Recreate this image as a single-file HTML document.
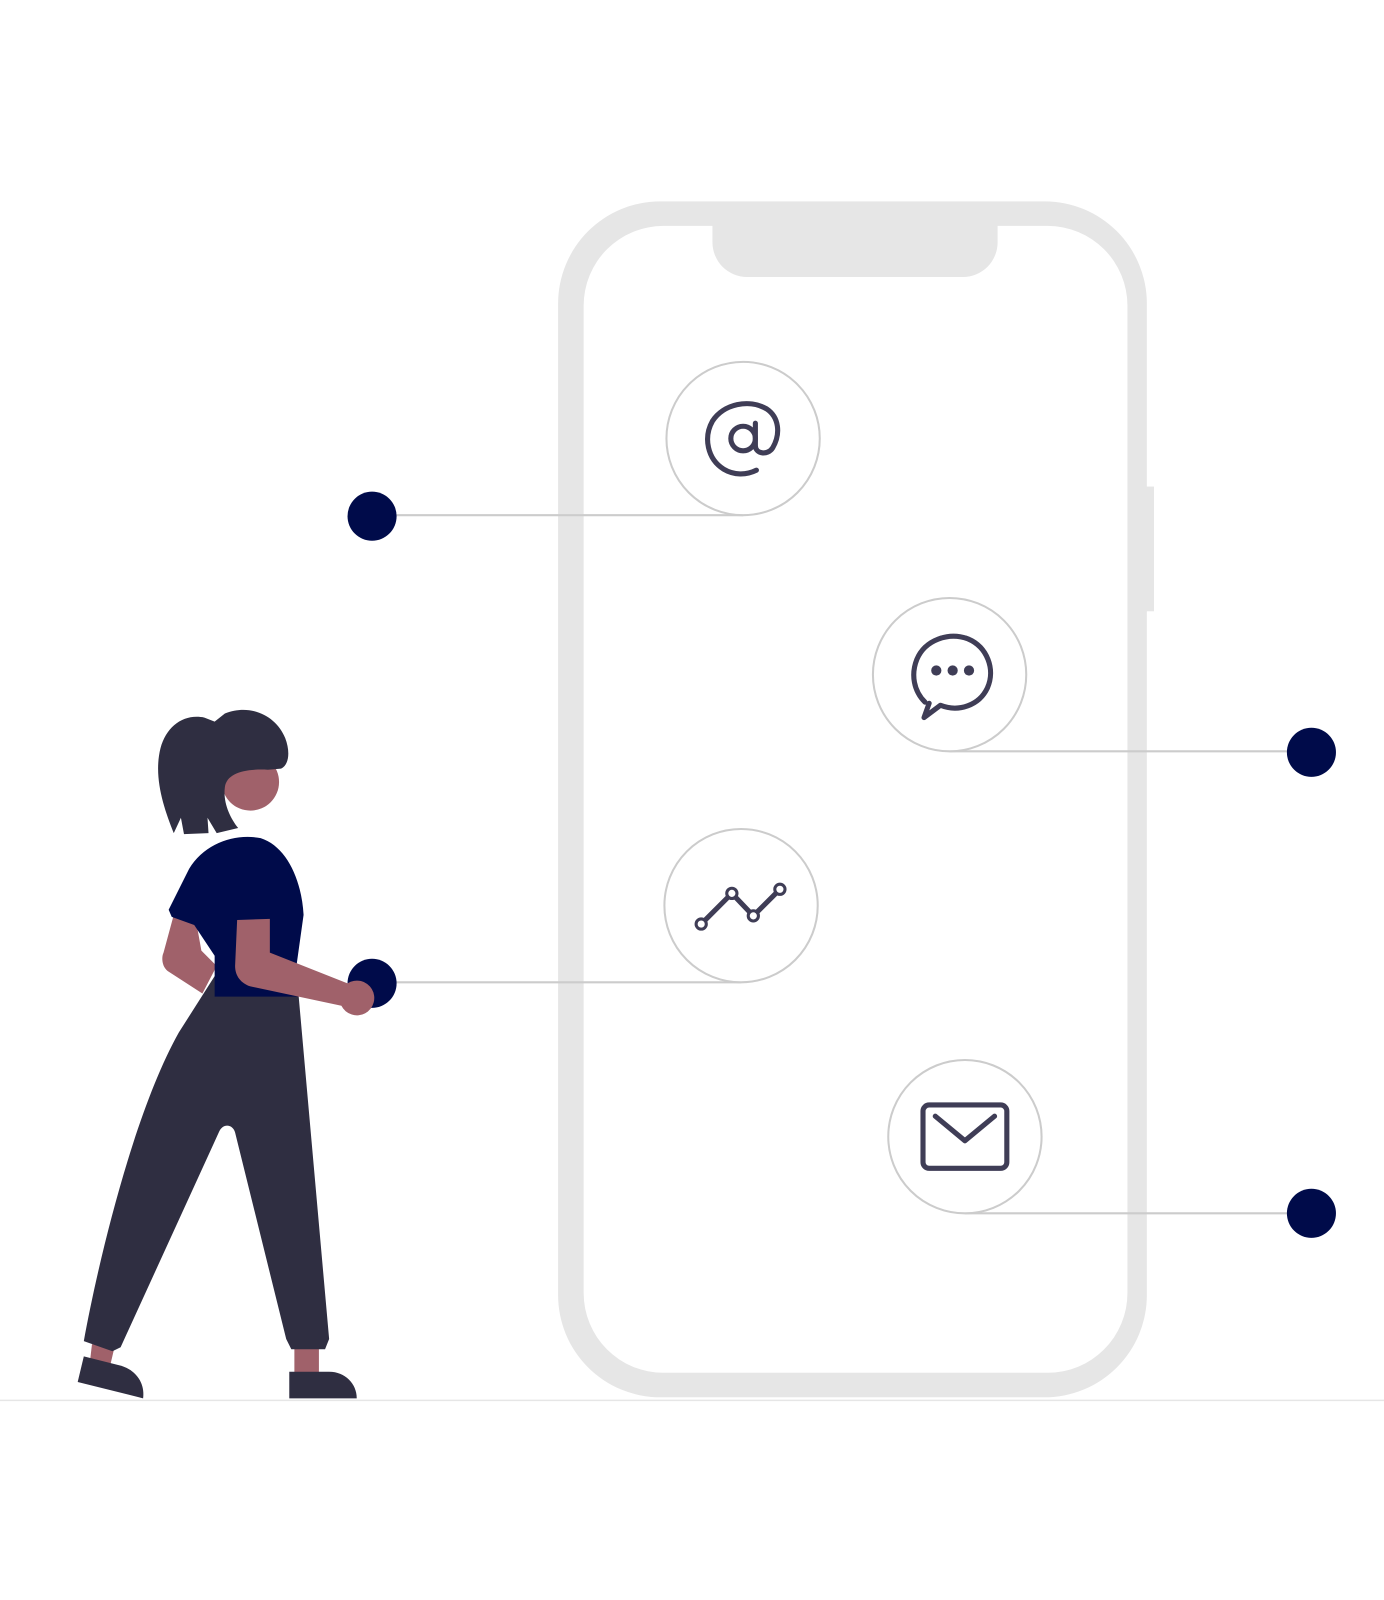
<!DOCTYPE html>
<html><head><meta charset="utf-8"><style>html,body{margin:0;padding:0;background:#fff}svg{display:block}</style></head>
<body>
<svg width="1384" height="1600" viewBox="0 0 1354 1565.3" xmlns="http://www.w3.org/2000/svg">
<line x1="0" y1="1370" x2="1354" y2="1370" stroke="#e6e6e6" stroke-width="1.5"/>
<path fill-rule="evenodd" fill="#e6e6e6" d="M646,197 H1022 A100,100 0 0 1 1122,297 V1267 A100,100 0 0 1 1022,1367 H646 A100,100 0 0 1 546,1267 V297 A100,100 0 0 1 646,197 Z
M649,221 H697 V237 A34,34 0 0 0 731,271 H942 A34,34 0 0 0 976,237 V221 H1025 A78,78 0 0 1 1103,299 V1265 A78,78 0 0 1 1025,1343 H649 A78,78 0 0 1 571,1265 V299 A78,78 0 0 1 649,221 Z"/>
<rect x="1121" y="476" width="8" height="122" fill="#e6e6e6"/>
<g stroke="#cccccc" stroke-width="2" fill="none">
<line x1="364" y1="504" x2="727" y2="504"/>
<line x1="929" y1="735" x2="1283" y2="735"/>
<line x1="364" y1="961" x2="725" y2="961"/>
<line x1="944" y1="1187" x2="1283" y2="1187"/>
<circle cx="727" cy="429" r="75" fill="#fff"/>
<circle cx="929" cy="660" r="75" fill="#fff"/>
<circle cx="725" cy="886" r="75" fill="#fff"/>
<circle cx="944" cy="1112" r="75" fill="#fff"/>
</g>
<g stroke="#3f3d56" stroke-width="5" fill="none" stroke-linecap="round" stroke-linejoin="round">
<circle cx="727" cy="429" r="12"/>
<path d="M739,414 V436 C739,444 751,446 756,438 C764,424 762,408 750,400 C733,390 708,395 697,412 C688,428 692,449 708,459 C718,465 730,465 740,460"/>
<path d="M905,687 C894,676 891,660 897,645 C905,626 928,618 947,625 C966,633 974,655 966,673 C958,690 938,697 920,690 L904,702 L909,688"/>
<polyline points="686,904 716,874 737,896 763,870"/>
<rect x="903" y="1081" width="82" height="62" rx="6"/>
<polyline points="915,1092 944,1116 973,1092"/>
</g>
<g fill="#3f3d56"><circle cx="916" cy="656" r="5"/><circle cx="932" cy="656" r="5"/><circle cx="948" cy="656" r="5"/></g>
<g fill="#fff" stroke="#3f3d56" stroke-width="3"><circle cx="686" cy="904" r="5"/><circle cx="716" cy="874" r="5"/><circle cx="737" cy="896" r="5"/><circle cx="763" cy="870" r="5"/></g>
<g fill="#000b4a">
<circle cx="364" cy="505" r="24"/>
<circle cx="1283" cy="736" r="24"/>
<circle cx="364" cy="962" r="24"/>
<circle cx="1283" cy="1187" r="24"/>
</g>
<g>
<path fill="#a0616a" d="M90,1315 L112,1318 L108,1335 L88,1332 Z"/>
<path fill="#a0616a" d="M288,1315 H312 V1345 H288 Z"/>
<path fill="#2f2e41" d="M82,1327 L118,1336 C132,1340 142,1352 140,1368 L76,1352 Z"/>
<path fill="#2f2e41" d="M283,1342 H322 C338,1342 349,1354 349,1368 H283 Z"/>
<path fill="#2f2e41" d="M210,955 L290,950 L322,1310 L318,1320 L285,1320 L280,1310 L230,1108 C228,1100 218,1098 214,1108 L118,1318 L110,1322 L82,1312 C95,1240 130,1090 175,1010 Z"/>
<path fill="#a0616a" d="M170,895 L192,902 L197,930 L212,945 L198,972 L164,950 C158,945 158,936 160,932 Z"/>
<path fill="#000b4a" d="M165,890 L185,850 C200,825 230,815 255,820 C280,828 295,860 297,895 L290,945 L292,975 L210,975 L210,935 L190,905 L168,897 Z"/>
<path fill="#a0616a" d="M232,900 L264,899 L264,932 L340,962 A17,17 0 1 1 334,984 L245,965 C236,962 230,955 230,945 Z"/>
<circle cx="245" cy="765" r="28" fill="#a0616a"/>
<path fill="#2f2e41" d="M170,815 C160,790 150,760 157,732 C163,710 180,698 200,702 L210,706 L220,698 C245,688 270,700 279,722 C284,735 283,748 275,752 L262,753 C240,752 222,756 220,770 C218,785 225,800 233,810 L212,815 L203,800 L204,815 L180,816 L177,800 Z"/>
</g>
</svg>
</body></html>
